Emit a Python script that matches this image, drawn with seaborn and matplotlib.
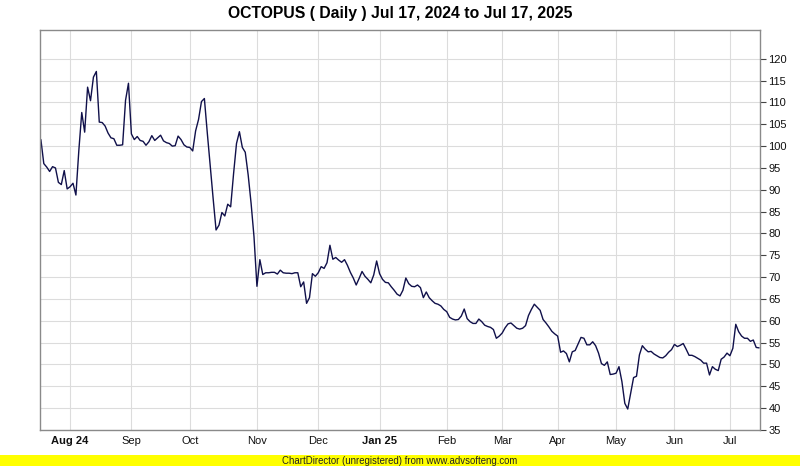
import numpy as np
import pandas as pd
import matplotlib
matplotlib.use("Agg")
import matplotlib.pyplot as plt
import seaborn as sns

title = "OCTOPUS ( Daily ) Jul 17, 2024 to Jul 17, 2025"
footer = "ChartDirector (unregistered) from www.advsofteng.com"
start_date = "2024-07-17"
end_date = "2025-07-17"

# weekdays with no trading in the series
no_trade_days = [
    "2024-07-22", "2024-08-12", "2024-09-16", "2024-12-25", "2025-02-12",
    "2025-03-18", "2025-03-31", "2025-04-18", "2025-04-21", "2025-05-01",
    "2025-05-12", "2025-06-02", "2025-06-09", "2025-07-04", "2025-07-10",
]

# daily close, one value per trading day
close = [
    101.5, 96.0, 95.2, 94.2, 95.3, 95.0, 91.7, 91.2, 94.4,
    90.2, 90.7, 91.5, 88.8, 99.0, 107.7, 103.2, 113.5, 110.4, 115.8,
    117.1, 105.5, 105.4, 104.6, 103.0, 101.9, 101.7, 100.2, 100.2,
    100.3, 110.5, 114.4, 102.8, 101.5, 102.2, 101.3, 101.1, 100.2, 101.0,
    102.4, 101.3, 101.9, 102.5, 101.2, 100.8, 100.6, 100.0, 100.1,
    102.3, 101.5, 100.3, 99.8, 99.7, 98.9, 103.5, 106.1, 110.2, 110.9,
    103.0, 95.5, 88.0, 80.8, 81.9, 84.8, 84.0, 86.7, 86.1,
    93.7, 100.6, 103.3, 99.7, 98.6, 93.4, 86.9, 79.2, 67.9, 74.0,
    70.6, 71.0, 71.0, 71.1, 71.1, 70.7, 71.6, 71.0, 70.9,
    70.9, 70.8, 71.0, 71.0, 67.8, 68.9, 64.0, 65.3, 70.8, 70.2,
    71.0, 72.4, 72.0, 73.3, 77.3, 74.1, 74.5, 73.9, 73.4,
    74.0, 72.7, 71.1, 69.8, 68.2, 69.7, 71.3, 70.2, 69.5, 68.7,
    70.5, 73.7, 70.8, 69.5, 68.8, 68.7, 67.8, 67.0, 66.1,
    65.7, 67.0, 69.8, 68.5, 67.9, 67.8, 68.2, 67.6, 65.3,
    66.6, 65.3, 64.6, 64.0, 63.8, 63.4, 62.6, 62.1, 60.8, 60.4,
    60.2, 60.3, 61.1, 62.7, 60.5, 59.8, 59.4, 59.4, 60.4,
    59.8, 59.0, 58.7, 58.5, 58.0, 56.0, 56.5, 57.2, 58.4, 59.3,
    59.5, 58.9, 58.3, 58.1, 58.3, 58.9, 61.2, 62.6, 63.8,
    63.1, 62.4, 60.3, 59.5, 58.6, 57.6, 57.0, 56.5, 52.8, 53.1,
    52.5, 50.6, 52.9, 53.2, 54.7, 56.2, 56.0, 54.5, 54.5,
    55.2, 54.3, 52.6, 50.2, 49.8, 50.6, 47.7, 47.8, 48.0, 49.5,
    46.1, 41.1, 39.8, 43.4, 47.0, 47.3, 52.2, 54.3, 53.5,
    52.9, 53.0, 52.4, 52.0, 51.6, 51.5, 52.0, 52.8, 53.4, 54.6,
    54.1, 54.4, 54.8, 53.5, 52.1, 52.1, 51.8, 51.4, 51.0,
    50.3, 50.3, 47.6, 49.5, 48.9, 48.6, 51.2, 51.7, 52.6,
    52.0, 53.7, 59.2, 57.5, 56.5, 56.0, 56.0, 55.3, 55.6, 53.9,
    53.8,
]

month_labels = ["Aug 24", "Sep", "Oct", "Nov", "Dec", "Jan 25",
                "Feb", "Mar", "Apr", "May", "Jun", "Jul"]
bold_labels = ["Aug 24", "Jan 25"]
y_ticks = list(range(35, 125, 5))

dates = pd.bdate_range(start_date, end_date)
dates = dates[~dates.isin(pd.to_datetime(no_trade_days))]
df = pd.DataFrame({"date": dates, "close": close})
df["pos"] = np.arange(len(df))

# first trading day of each month (skip the partial first month)
month_pos = df.groupby(df["date"].dt.to_period("M"))["pos"].min().iloc[1:1 + len(month_labels)]

sns.set_style("white")
plt.rcParams["font.family"] = ["Liberation Sans", "DejaVu Sans"]

fig = plt.figure(figsize=(8, 4.66), dpi=100)
ax = fig.add_axes([0.05, 0.0773, 0.9, 0.8584])

sns.lineplot(data=df, x="pos", y="close", ax=ax, color="#10104a", linewidth=1.0)

ax.set_xlim(-0.3, len(df) - 0.7)
ax.set_ylim(35, 126.6)

ax.set_yticks(y_ticks)
ax.yaxis.tick_right()
ax.tick_params(axis="y", direction="out", length=4, width=0.8, color="#444444",
               labelsize=8, pad=2, labelcolor="#111111")

ax.set_xticks(month_pos.values)
ax.set_xticklabels(month_labels)
ax.tick_params(axis="x", length=0, labelsize=8, pad=4, labelcolor="#111111")
for lbl in ax.get_xticklabels():
    if lbl.get_text() in bold_labels:
        lbl.set_fontweight("bold")

ax.grid(True, color="#dcdcdc", linewidth=0.8)
ax.set_axisbelow(True)
for s in ax.spines.values():
    s.set_visible(True)
    s.set_color("#8a8a8a")
    s.set_linewidth(1.0)

ax.set_xlabel("")
ax.set_ylabel("")

fig.text(0.5, 0.972, title, ha="center", va="center", fontsize=11.3,
         fontweight="bold", color="black")

# yellow footer strip
fig.patches.append(plt.Rectangle((0, 0), 1, 11 / 466, transform=fig.transFigure,
                                 facecolor="#ffff00", edgecolor="none", zorder=0))
fig.text(0.5, 5.5 / 466, footer, ha="center", va="center", fontsize=6.9, color="#222222")

fig.savefig("out.png", dpi=100, facecolor="white")
